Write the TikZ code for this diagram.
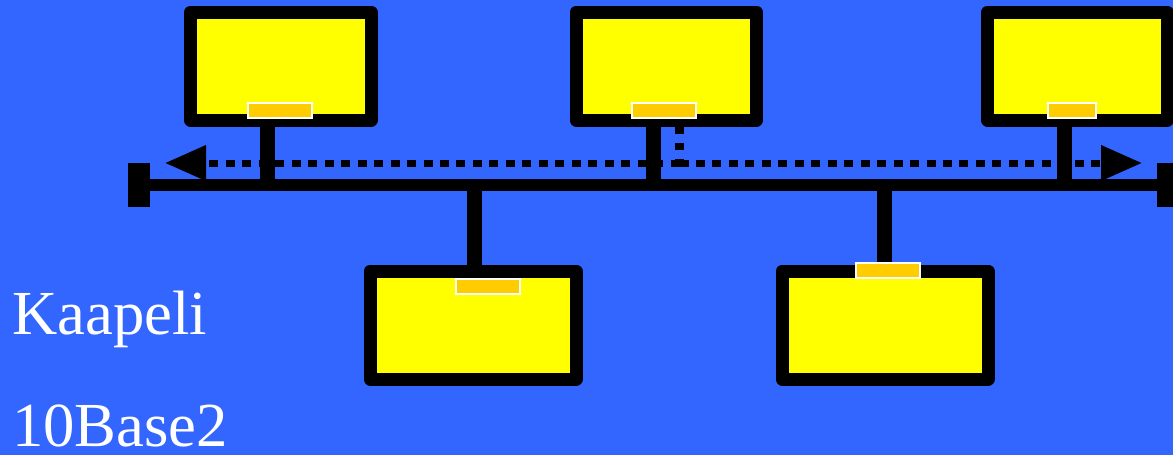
\documentclass[tikz,border=0pt]{standalone}
\usepackage{fontspec}
\setmainfont{Liberation Serif}
\usepackage{tikz}
\usetikzlibrary{calc}
\usetikzlibrary{positioning}
\usetikzlibrary{arrows.meta}
\definecolor{bgblue}{HTML}{3366FF}
\definecolor{screen}{HTML}{FFFF00}
\definecolor{cardgold}{HTML}{FFCC00}
\tikzset{>={Triangle[length=30.75pt,width=25.5pt]},
  host/.style = {rectangle,draw=black,fill=screen,line width=9.75pt,line join=round,
    minimum height=108*0.75pt,inner sep=0pt},
  nic/.style = {rectangle,draw=white,fill=cardgold,line width=1.5pt,
    minimum height=15*0.75pt,inner sep=0pt},
  stem/.style = {draw=black,line width=11.25pt},
  cable/.style = {draw=black,line width=9pt},
  terminator/.style = {rectangle,fill=black,minimum width=22*0.75pt,minimum height=44*0.75pt,inner sep=0pt},
  signal/.style = {draw=black,line width=5.25pt,dash pattern=on 6.75pt off 5.6pt},
  label/.style = {text=white,font=\fontsize{47}{56}\selectfont,inner sep=0pt,anchor=base west}
}

\begin{document}
\begin{tikzpicture}[x=0.75pt,y=-0.75pt]
      \fill[bgblue] (0,0) rectangle (1173,455);
      \useasboundingbox (0,0) rectangle (1173,455);
      \def\busy{185}

      % koneet
      \node[host,minimum width=180.5*0.75pt] (host1) at (280.75,66) {};
      \node[host,minimum width=180.5*0.75pt] (host2) at (666.25,66) {};
      \node[host,minimum width=179.5*0.75pt] (host3) at (1077.25,66) {};
      \node[host,minimum width=206*0.75pt] (host4) at (473,325) {};
      \node[host,minimum width=206*0.75pt] (host5) at (885,325) {};

      % liitokset kaapeliin
      \coordinate (tap1) at (267.5,\busy);
      \coordinate (tap2) at (653.5,\busy);
      \coordinate (tap3) at (1064.5,\busy);
      \coordinate (tap4) at (474,\busy);
      \coordinate (tap5) at (884,\busy);
      \draw[stem] (host1.south -| tap1) -- (tap1);
      \draw[stem] (host2.south -| tap2) -- (tap2);
      \draw[stem] (host3.south -| tap3) -- (tap3);
      \draw[stem] (tap4) -- (host4.north -| tap4);
      \draw[stem] (tap5) -- (host5.north -| tap5);

      % verkkokortit
      \node[nic,minimum width=64*0.75pt] (nic1) at (280,110.5) {};
      \node[nic,minimum width=64*0.75pt] (nic2) at (664,110.5) {};
      \node[nic,minimum width=48*0.75pt] (nic3) at (1072,110.5) {};
      \node[nic,minimum width=64*0.75pt] (nic4) at (488,286) {};
      \node[nic,minimum width=64*0.75pt] (nic5) at (888,270) {};

      % kaapeli ja paatevastukset
      \node[terminator] (termL) at (139,\busy) {};
      \node[terminator] (termR) at (1168,\busy) {};
      \draw[cable] (termL.center) -- (termR.center);

      % signaali
      \coordinate (src) at (679.5,163);
      \coordinate (endL) at (165,163);
      \coordinate (endR) at (1142,163);
      \draw[signal,line width=6.75pt,dash pattern=on 5.25pt off 7.1pt] (src |- host2.south) -- (src);
      \draw[signal,->] (src) -- (endL);
      \draw[signal,->] (src) -- (endR);

      \node[label] (kaapeli) at (12,334) {Kaapeli};
      \node[label] (tyyppi) at (12,446) {10Base2};
    \end{tikzpicture}
\end{document}
